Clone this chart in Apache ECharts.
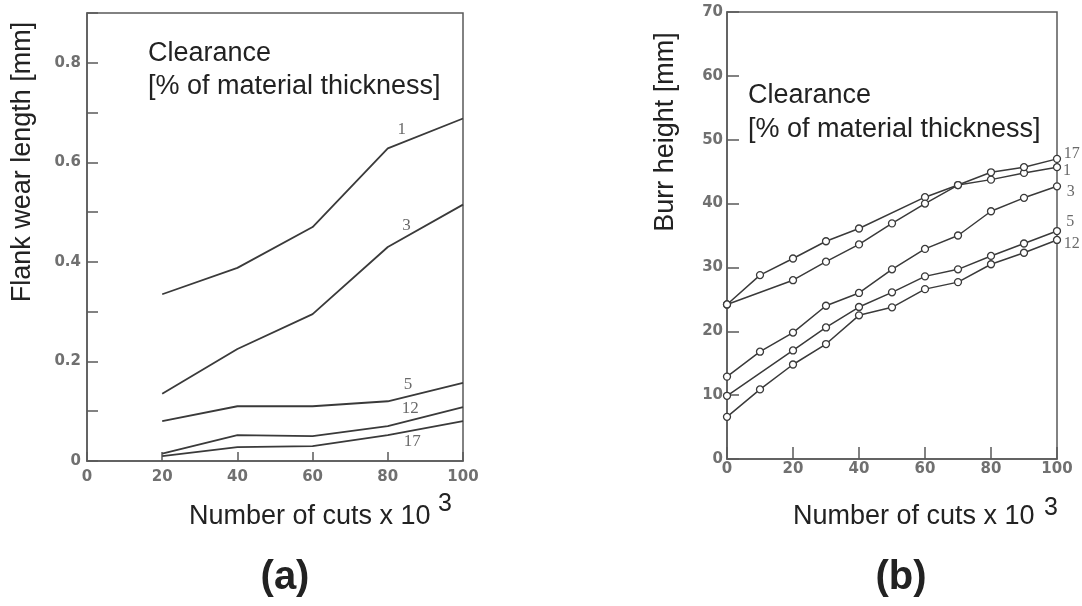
<!DOCTYPE html>
<html>
<head>
<meta charset="utf-8">
<script src="https://cdn.jsdelivr.net/npm/echarts@6/dist/echarts.min.js"></script>
<style>
html,body{margin:0;padding:0;background:#fff;}
#chart{width:1082px;height:606px;}
</style>
</head>
<body>
<div id="chart"></div>
<script>
// ---- Data: (a) Flank wear length [mm] ----
const cutsA = [20, 40, 60, 80, 100];
const wear1 = [0.335, 0.388, 0.47, 0.628, 0.688];
const wear3 = [0.135, 0.225, 0.295, 0.43, 0.515];
const wear5 = [0.08, 0.11, 0.11, 0.12, 0.157];
const wear12 = [0.015, 0.052, 0.05, 0.07, 0.108];
const wear17 = [0.01, 0.028, 0.03, 0.052, 0.08];
const wearLabelNames = ['1', '3', '5', '12', '17'];
const wearLabelX = [83.7, 85, 85.4, 86, 86.5];
const wearLabelY = [0.665, 0.474, 0.153, 0.106, 0.039];

// ---- Data: (b) Burr height [mm] ----
const burr1X = [0, 10, 20, 30, 40, 60, 70, 80, 90, 100];
const burr1 = [24.2, 28.8, 31.4, 34.1, 36.1, 41.0, 42.9, 43.75, 44.8, 45.7];
const burr17X = [0, 20, 30, 40, 50, 60, 70, 80, 90, 100];
const burr17 = [24.2, 28.0, 30.9, 33.6, 36.9, 40.0, 42.9, 44.9, 45.7, 47.0];
const burr3X = [0, 10, 20, 30, 40, 50, 60, 70, 80, 90, 100];
const burr3 = [12.9, 16.8, 19.8, 24.0, 26.0, 29.7, 32.9, 35.0, 38.8, 40.9, 42.7];
const burr5X = [0, 20, 30, 40, 50, 60, 70, 80, 90, 100];
const burr5 = [9.9, 17.0, 20.6, 23.8, 26.1, 28.6, 29.7, 31.8, 33.75, 35.7];
const burr12X = [0, 10, 20, 30, 40, 50, 60, 70, 80, 90, 100];
const burr12 = [6.6, 10.9, 14.8, 18.0, 22.5, 23.75, 26.6, 27.7, 30.5, 32.3, 34.3];
const burrLabelNames = ['17', '1', '3', '5', '12'];
const burrLabelX = [104.5, 103, 104.2, 104, 104.5];
const burrLabelY = [47.8, 45.2, 41.8, 37.1, 33.75];

// ---- Text ----
const xTitle = 'Number of cuts x 10';
const xTitleSup = '3';
const yTitleA = 'Flank wear length [mm]';
const yTitleB = 'Burr height [mm]';
const noteLine1 = 'Clearance';
const noteLine2 = '[% of material thickness]';
const panelA = '(a)';
const panelB = '(b)';

const zip = (xs, ys) => xs.map((x, i) => [x, ys[i]]);
const labelData = (names, xs, ys) => names.map((n, i) => ({ name: n, value: [xs[i], ys[i]] }));

const lineCol = '#3a3a3a';
const axisCol = '#5a5a5a';
const tickFont = { color: '#707070', fontFamily: 'DejaVu Sans', fontSize: 15, fontWeight: 'bold' };
const textFont = 'Liberation Sans, Arial, sans-serif';

function wearSeries(vals) {
  return {
    type: 'line', xAxisIndex: 0, yAxisIndex: 0,
    data: zip(cutsA, vals), symbol: 'none',
    lineStyle: { color: lineCol, width: 1.8 }, silent: true
  };
}
function burrSeries(xs, vals) {
  return {
    type: 'line', xAxisIndex: 1, yAxisIndex: 1,
    data: zip(xs, vals), symbol: 'circle', symbolSize: 7, showAllSymbol: true,
    lineStyle: { color: lineCol, width: 1.5 },
    itemStyle: { color: '#fff', borderColor: lineCol, borderWidth: 1.3 }, silent: true
  };
}

function txt(text, x, y, size, opts) {
  opts = opts || {};
  return {
    type: 'text', x: x, y: y, rotation: opts.rotation || 0, silent: true,
    style: {
      text: text, x: 0, y: 0,
      font: (opts.weight || 'normal') + ' ' + size + 'px ' + textFont,
      fill: opts.fill || '#222',
      textAlign: opts.align || 'left', textVerticalAlign: 'middle'
    }
  };
}

const chart = echarts.init(document.getElementById('chart'));
chart.setOption({
  animation: false,
  backgroundColor: '#ffffff',
  grid: [
    { left: 87, top: 13, width: 376, height: 448, show: true, borderColor: axisCol, borderWidth: 1.5 },
    { left: 727, top: 12, width: 330, height: 447, show: true, borderColor: axisCol, borderWidth: 1.5 }
  ],
  xAxis: [
    {
      type: 'value', gridIndex: 0, min: 0, max: 100, interval: 20,
      axisLine: { lineStyle: { color: axisCol, width: 1.5 } },
      axisTick: { inside: true, length: 9, lineStyle: { color: axisCol, width: 1.5 } },
      axisLabel: Object.assign({ margin: 9 }, tickFont),
      splitLine: { show: false }
    },
    {
      type: 'value', gridIndex: 1, min: 0, max: 100, interval: 20,
      axisLine: { lineStyle: { color: axisCol, width: 1.5 } },
      axisTick: { inside: true, length: 12, lineStyle: { color: axisCol, width: 1.5 } },
      axisLabel: Object.assign({ margin: 3 }, tickFont),
      splitLine: { show: false }
    }
  ],
  yAxis: [
    {
      type: 'value', gridIndex: 0, min: 0, max: 0.9, interval: 0.1,
      axisLine: { lineStyle: { color: axisCol, width: 1.5 } },
      axisTick: { inside: true, length: 11, lineStyle: { color: axisCol, width: 1.5 } },
      axisLabel: Object.assign({
        margin: 6,
        formatter: function (v) {
          const k = Math.round(v * 10);
          if (k % 2 !== 0 || k > 8) return '';
          return k === 0 ? '0' : (k / 10).toFixed(1);
        }
      }, tickFont),
      splitLine: { show: false }
    },
    {
      type: 'value', gridIndex: 1, min: 0, max: 70, interval: 10,
      axisLine: { lineStyle: { color: axisCol, width: 1.5 } },
      axisTick: { inside: true, length: 12, lineStyle: { color: axisCol, width: 1.5 } },
      axisLabel: Object.assign({ margin: 4 }, tickFont),
      splitLine: { show: false }
    }
  ],
  series: [
    wearSeries(wear1), wearSeries(wear3), wearSeries(wear5), wearSeries(wear12), wearSeries(wear17),
    {
      type: 'scatter', xAxisIndex: 0, yAxisIndex: 0, symbolSize: 0, silent: true,
      data: labelData(wearLabelNames, wearLabelX, wearLabelY),
      label: { show: true, position: 'inside', formatter: '{b}', color: '#444', fontFamily: 'Liberation Serif', fontSize: 17 }
    },
    burrSeries(burr1X, burr1), burrSeries(burr17X, burr17), burrSeries(burr3X, burr3),
    burrSeries(burr5X, burr5), burrSeries(burr12X, burr12),
    {
      type: 'scatter', xAxisIndex: 1, yAxisIndex: 1, symbolSize: 0, silent: true, clip: false,
      data: labelData(burrLabelNames, burrLabelX, burrLabelY),
      label: { show: true, position: 'inside', formatter: '{b}', color: '#444', fontFamily: 'Liberation Serif', fontSize: 16 }
    }
  ],
  graphic: [
    txt(noteLine1, 148, 54, 27),
    txt(noteLine2, 148, 87, 27),
    txt(noteLine1, 748, 96, 27),
    txt(noteLine2, 748, 130, 27),
    txt(yTitleA, 23, 162, 27, { rotation: Math.PI / 2, align: 'center' }),
    txt(yTitleB, 666, 132, 27, { rotation: Math.PI / 2, align: 'center' }),
    txt(xTitle, 189, 517, 27),
    txt(xTitleSup, 438, 504, 25),
    txt(xTitle, 793, 517, 27),
    txt(xTitleSup, 1044, 508, 25),
    txt(panelA, 285, 578, 40, { align: 'center', weight: 'bold' }),
    txt(panelB, 901, 578, 40, { align: 'center', weight: 'bold' })
  ]
});
</script>
</body>
</html>
